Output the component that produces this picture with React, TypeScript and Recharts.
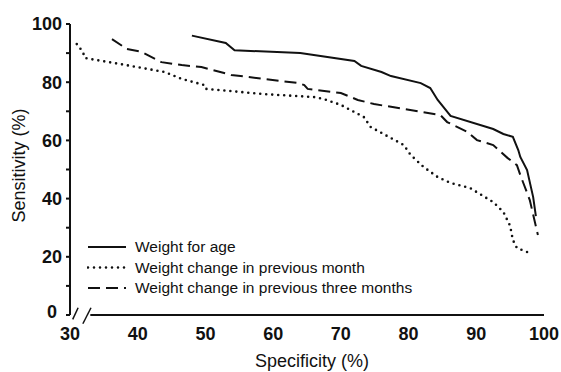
import { LineChart, Line, XAxis, YAxis, ReferenceLine } from 'recharts'

// specificity (%) / sensitivity (%) pairs
const forAgeSpec = [48, 53, 54.3, 64, 72, 73, 76, 77.4, 81.8, 83.2, 84.3, 86.2, 92.5, 94, 95.4, 96.2, 96.5, 97.5, 98.4, 98.8]
const forAgeSens = [96, 93.5, 91, 90, 87.3, 85.6, 83.5, 82.1, 79.7, 78, 73.9, 68.4, 63.9, 62.2, 61.2, 56.7, 54.3, 49.8, 40.5, 34]

const monthSpec = [31, 31.9, 32.2, 38, 44, 46.5, 49.9, 50.1, 58.7, 66, 67.5, 70, 73.4, 74.4, 76.3, 79.3, 80.3, 82.2, 84.3, 86.2, 89.1, 92.5, 94, 95, 95.4, 96, 97.9]
const monthSens = [93.1, 90.4, 88.3, 86, 83.5, 81.1, 79, 77.7, 75.9, 74.9, 74.2, 72.2, 68, 64.6, 62.2, 58.4, 55, 50.9, 47.4, 45.4, 43.6, 38.8, 35.4, 30.6, 25.8, 23, 21.3]

const threeSpec = [36.2, 38.4, 40.6, 43.5, 46.5, 49.4, 53.8, 63.7, 64.6, 65.1, 70, 72.5, 74.9, 84.7, 85.7, 88.7, 90.1, 92.5, 94.6, 96, 96.5, 97.9, 99.1]
const threeSens = [94.8, 91.4, 90.4, 86.9, 85.9, 85.2, 82.5, 79.7, 79, 77.7, 76.3, 73.9, 72.5, 68.7, 66.3, 62.9, 60.1, 58.4, 54, 51.5, 48.1, 39.5, 27.5]

const xTicks = [30, 40, 50, 60, 70, 80, 90, 100]
const yTicks = [0, 10, 20, 30, 40, 50, 60, 70, 80, 90, 100]

const seriesNames = [
  'Weight for age',
  'Weight change in previous month',
  'Weight change in previous three months',
]

const toPoints = (xs: number[], ys: number[]) => xs.map((x, i) => ({ spec: x, sens: ys[i] }))

const forAge = toPoints(forAgeSpec, forAgeSens)
const month = toPoints(monthSpec, monthSens)
const three = toPoints(threeSpec, threeSens)

const tickFont = { fontFamily: 'Liberation Sans, Arial, sans-serif', fontSize: 18, fontWeight: 700, fill: '#111' }
const labelFont = 'Liberation Sans, Arial, sans-serif'

const dashes = ['', '0 6', '12 6']
const widths = [2, 2.6, 2]

// y tick: only every 20 gets a label, the 0 sits a bit left and up like the print
function YTick({ x, y, payload }: any) {
  const v = payload.value
  if (v % 20 !== 0) return null
  const zero = v === 0
  return (
    <text x={zero ? x - 5 : x} y={zero ? y - 3 : y} dy="0.355em" textAnchor="end" {...tickFont}>{v}</text>
  )
}

function KeyBox() {
  return (
    <svg width={340} height={66} style={{ position: 'absolute', left: 79, top: 229 }}>
      {seriesNames.map((n, i) => (
        <g key={n} transform={`translate(0, ${10 + i * 20.5})`}>
          <line x1={1} x2={39} y1={0} y2={0} stroke="#111" strokeWidth={widths[i]}
            strokeDasharray={dashes[i] || undefined} strokeLinecap={i === 1 ? 'round' : 'butt'} />
          <text x={48} y={5} fontSize={15.5} fontFamily={labelFont} fill="#111">{n}</text>
        </g>
      ))}
    </svg>
  )
}

export default function App() {
  return (
    <div style={{ position: 'absolute', left: 8, top: 8, width: 553, height: 364, overflow: 'hidden' }}>
      <LineChart width={553} height={364} margin={{ top: 16, right: 17, left: 0, bottom: 12 }}>
        <XAxis type="number" dataKey="spec" domain={[30, 100]} ticks={xTicks} allowDataOverflow
          axisLine={false} tickLine={false} tickSize={6} tickMargin={6} tick={tickFont} height={45}
          label={{ value: 'Specificity (%)', position: 'insideBottom', offset: -7, dx: 5, fontSize: 18, fontFamily: labelFont, fill: '#111' }} />
        <YAxis type="number" dataKey="sens" domain={[0, 100]} ticks={yTicks} width={62}
          axisLine={{ stroke: '#111', strokeWidth: 2 }} tickLine={{ stroke: '#111', strokeWidth: 2 }}
          tickSize={4} tickMargin={4} tick={<YTick />}
          label={{ value: 'Sensitivity (%)', angle: -90, position: 'insideLeft', offset: 11, dy: -4, fontSize: 18, fontFamily: labelFont, fill: '#111', style: { textAnchor: 'middle' } }} />
        <ReferenceLine segment={[{ x: 33, y: 0 }, { x: 100, y: 0 }]} stroke="#111" strokeWidth={2} ifOverflow="visible" />
        <ReferenceLine segment={[{ x: 30.4, y: -1.5 }, { x: 31.2, y: 2.5 }]} stroke="#111" strokeWidth={1.5} ifOverflow="visible" />
        <ReferenceLine segment={[{ x: 31.9, y: -3 }, { x: 33.1, y: 2.5 }]} stroke="#111" strokeWidth={1.5} ifOverflow="visible" />
        <Line data={forAge} dataKey="sens" name={seriesNames[0]} type="linear" stroke="#111" strokeWidth={2}
          dot={false} activeDot={false} isAnimationActive={false} />
        <Line data={month} dataKey="sens" name={seriesNames[1]} type="linear" stroke="#111" strokeWidth={2.6}
          strokeDasharray="0 6" strokeLinecap="round" dot={false} activeDot={false} isAnimationActive={false} />
        <Line data={three} dataKey="sens" name={seriesNames[2]} type="linear" stroke="#111" strokeWidth={2}
          strokeDasharray="12 6" dot={false} activeDot={false} isAnimationActive={false} />
      </LineChart>
      <KeyBox />
    </div>
  )
}
